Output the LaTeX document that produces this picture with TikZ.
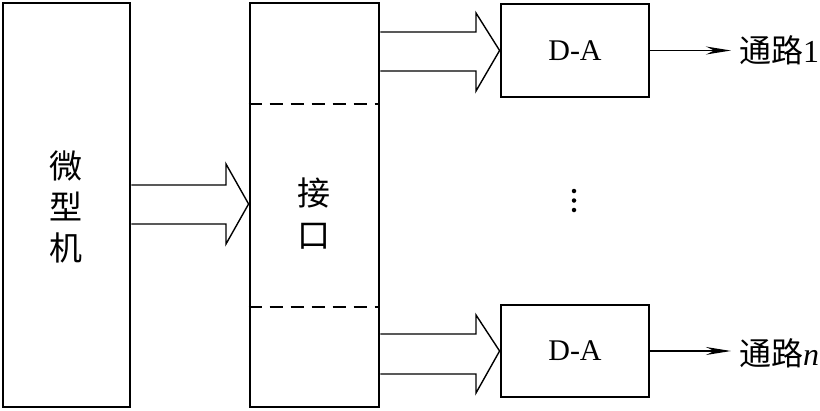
\documentclass[tikz,border=0pt]{standalone}
\usepackage{fontspec}
\setmainfont{Liberation Serif}
\newfontfamily\cjk{Noto Sans CJK SC}
\usetikzlibrary{arrows.meta,calc}
\begin{document}
\begin{tikzpicture}[x=1pt,y=-1pt,
  box/.style={draw,line width=2.8pt,inner sep=0pt},
  fat/.style={draw,line width=1.4pt,line join=miter},
  thin/.style={draw,line width=1.3pt,shorten >=8pt,-{Stealth[length=25pt,width=8pt]}},
  sep/.style={line width=1.4pt,dash pattern=on 13pt off 8pt},
  dotnode/.style={circle,fill,inner sep=0pt,minimum size=4.5pt},
  lbl/.style={font=\fontsize{30}{30}\selectfont}]
\useasboundingbox (0,0) rectangle (820,410);
\node[box,minimum width=127pt,minimum height=404pt] (mcu) at (66.5,205) {};
\node[box,minimum width=129pt,minimum height=404pt] (itf) at (314.5,205) {};
\node[box,minimum width=148pt,minimum height=93pt] (da1) at (575,50.5) {};
\node[box,minimum width=148pt,minimum height=92pt] (dan) at (575,351) {};
\node[align=center,font=\cjk\fontsize{33}{41}\selectfont] (t1) at (66,207) {微\\型\\机};
\node[align=center,font=\cjk\fontsize{33}{42}\selectfont] (t2) at (314,214) {接\\口};
\node[lbl] (l1) at (da1.center) {D-A};
\node[lbl] (ln) at (dan.center) {D-A};
\node[anchor=west,inner sep=0pt,font=\fontsize{32}{32}\selectfont] (o1) at (739,50) {{\cjk 通路}1};
\node[anchor=west,inner sep=0pt,font=\fontsize{32}{32}\selectfont] (on) at (739,353) {{\cjk 通路}\textit{n}};
\node[dotnode] (d1) at (574,191) {};
\node[dotnode] (d2) at (574,200.5) {};
\node[dotnode] (d3) at (574,210) {};
% dashed separators
\draw[sep] (itf.west |- 0,104) -- (itf.east |- 0,104);
\draw[sep] (itf.west |- 0,307) -- (itf.east |- 0,307);
% big arrow
\draw[fat] (mcu.east |- 0,185) -- (226,185) -- (226,164) -- (itf.west |- 0,204) -- (226,244) -- (226,224) -- (mcu.east |- 0,224);
% top arrow
\draw[fat] (itf.east |- 0,32) -- (476,32) -- (476,13) -- (da1.west) -- (476,91) -- (476,71) -- (itf.east |- 0,71);
% bottom arrow
\draw[fat] (itf.east |- 0,334) -- (476,334) -- (476,315) -- (dan.west) -- (476,393) -- (476,374) -- (itf.east |- 0,374);
% outputs
\draw[thin] (da1.east) -- (da1.east -| o1.west);
\draw[thin] (dan.east) -- (dan.east -| on.west);
\end{tikzpicture}
\end{document}
